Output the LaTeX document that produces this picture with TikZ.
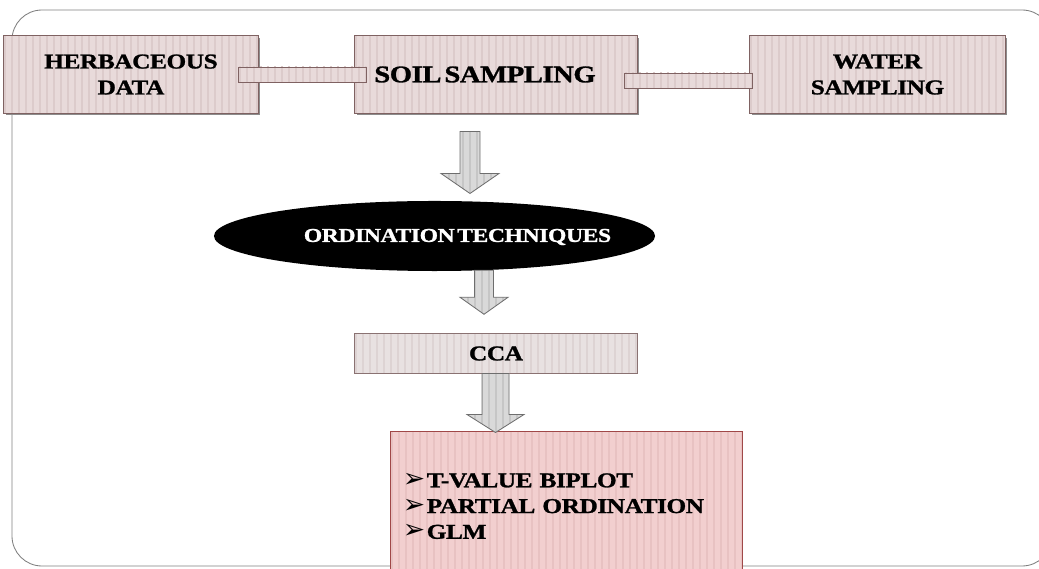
\documentclass[tikz,border=0pt]{standalone}
\usepackage{fontspec}
\setmainfont{Liberation Serif}
\newfontfamily\boxfont{Liberation Serif}[FakeStretch=1.2, WordSpace=0.45, LetterSpace=-2, FakeBold=1.2]
\newfontfamily\bulletfont{DejaVu Sans}
\usepackage{xcolor}
\usepackage{tikz}
\usetikzlibrary{calc, shadows, shapes.geometric, positioning}

\definecolor{framegray}{HTML}{7F7F7F}
\definecolor{boxfill}{HTML}{E8DADA}
\definecolor{boxstripe}{HTML}{DCCBCB}
\definecolor{boxline}{HTML}{7F6262}
\definecolor{ccafill}{HTML}{E8E1E1}
\definecolor{ccastripe}{HTML}{DDD3D3}
\definecolor{ccaline}{HTML}{8A7272}
\definecolor{resfill}{HTML}{F2CFCF}
\definecolor{resstripe}{HTML}{E8C2C2}
\definecolor{resline}{HTML}{A04848}
\definecolor{arrowfill}{HTML}{D9D9D9}
\definecolor{arrowstripe}{HTML}{C6C6C6}
\definecolor{arrowline}{HTML}{6E6E6E}

\newcommand{\pointer}{{\bulletfont\fontsize{19pt}{18pt}\selectfont ➢}\hspace{1pt}}

\begin{document}
\begin{tikzpicture}[x=0.025cm, y=-0.025cm]
            \useasboundingbox (0,0) rectangle (1039,569);

            %Vertical stripes for the filled shapes
            \tikzset{stripes/.style={path picture={
            \foreach \k in {0,...,62}
            \fill[#1] ([xshift=\k*0.175cm]path picture bounding box.south west) rectangle ++(0.05cm,10cm);
            }}}

            % Define block styles
            \tikzstyle{datbox} = [draw=boxline, fill=boxfill, stripes=boxstripe, line width=0.7pt, minimum height=1.925cm, inner sep=0, align=center,
                drop shadow={shadow xshift=0.04cm, shadow yshift=-0.05cm, fill=black!45, opacity=1},
                font=\boxfont\bfseries\fontsize{15pt}{18.5pt}\selectfont]
            \tikzstyle{barlink} = [draw=boxline, fill=boxfill, stripes=boxstripe, line width=0.7pt]
            \tikzstyle{ordshape} = [ellipse, fill=black, minimum width=11.025cm, minimum height=1.75cm, inner sep=0]
            \tikzstyle{ordtext} = [text=white, inner sep=0, font=\boxfont\bfseries\fontsize{14pt}{16pt}\selectfont]
            \tikzstyle{ccabox} = [draw=ccaline, fill=ccafill, stripes=ccastripe, line width=0.7pt, minimum width=7.05cm, minimum height=0.975cm, inner sep=0,
                font=\boxfont\bfseries\fontsize{15pt}{18pt}\selectfont]
            \tikzstyle{resbox} = [draw=resline, fill=resfill, stripes=resstripe, line width=0.7pt, minimum height=3.7cm, text width=8.175cm, inner sep=0.3cm, align=left,
                font=\boxfont\bfseries\fontsize{15pt}{18.3pt}\selectfont]
            \tikzstyle{blockarrow} = [draw=arrowline, fill=arrowfill, stripes=arrowstripe, line width=0.6pt, line join=miter]

            % Frame
            \draw[framegray, line width=0.6pt, rounded corners=0.75cm] (12,10) rectangle (1052,566);

            % Nodes
            \node[datbox, minimum width=6.35cm] at (131,74.5) (herb) {HERBACEOUS\\DATA};
            \node[datbox, minimum width=7.05cm, font=\boxfont\bfseries\fontsize{17pt}{19pt}\selectfont] at (496,74.5) (soil) {SOIL SAMPLING\hspace*{0.55cm}};
            \node[datbox, minimum width=6.375cm] at (877.5,74.5) (water) {WATER\\SAMPLING};
            \node[ordshape] at (434.5,236) (ord) {};
            \node[ordtext] at ($(ord.center)+(23,1)$) (ordlbl) {ORDINATION TECHNIQUES};
            \node[ccabox] at (496,353.5) (cca) {CCA};
            \node[resbox] at (566.5,506) (res) {\pointer T-VALUE BIPLOT\\ \pointer PARTIAL ORDINATION\\ \pointer GLM};

            % Links between the sampling boxes
            \draw[barlink] ($(herb.east)+(-20,-7.5)$) rectangle ($(soil.west)+(12,7.5)$);
            \draw[barlink] ($(soil.east)+(-13,-1.5)$) rectangle ($(water.west)+(3,13.5)$);

            % Block arrows
            \draw[blockarrow] ($(soil.south)+(-36,18)$) -- ++(20,0) -- ++(0,42) -- ++(19,0) -- ++(-29,20) -- ++(-29,-20) -- ++(19,0) -- cycle;
            \draw[blockarrow] ($(ord.south)+(40,-1)$) -- ++(19,0) -- ++(0,27) -- ++(14.5,0) -- ++(-24,17) -- ++(-24,-17) -- ++(14.5,0) -- cycle;
            \draw[blockarrow] ($(cca.south)+(-14,0)$) -- ++(27,0) -- ++(0,41) -- ++(15,0) -- ++(-28.5,18) -- ++(-28.5,-18) -- ++(15,0) -- cycle;
\end{tikzpicture}
\end{document}
